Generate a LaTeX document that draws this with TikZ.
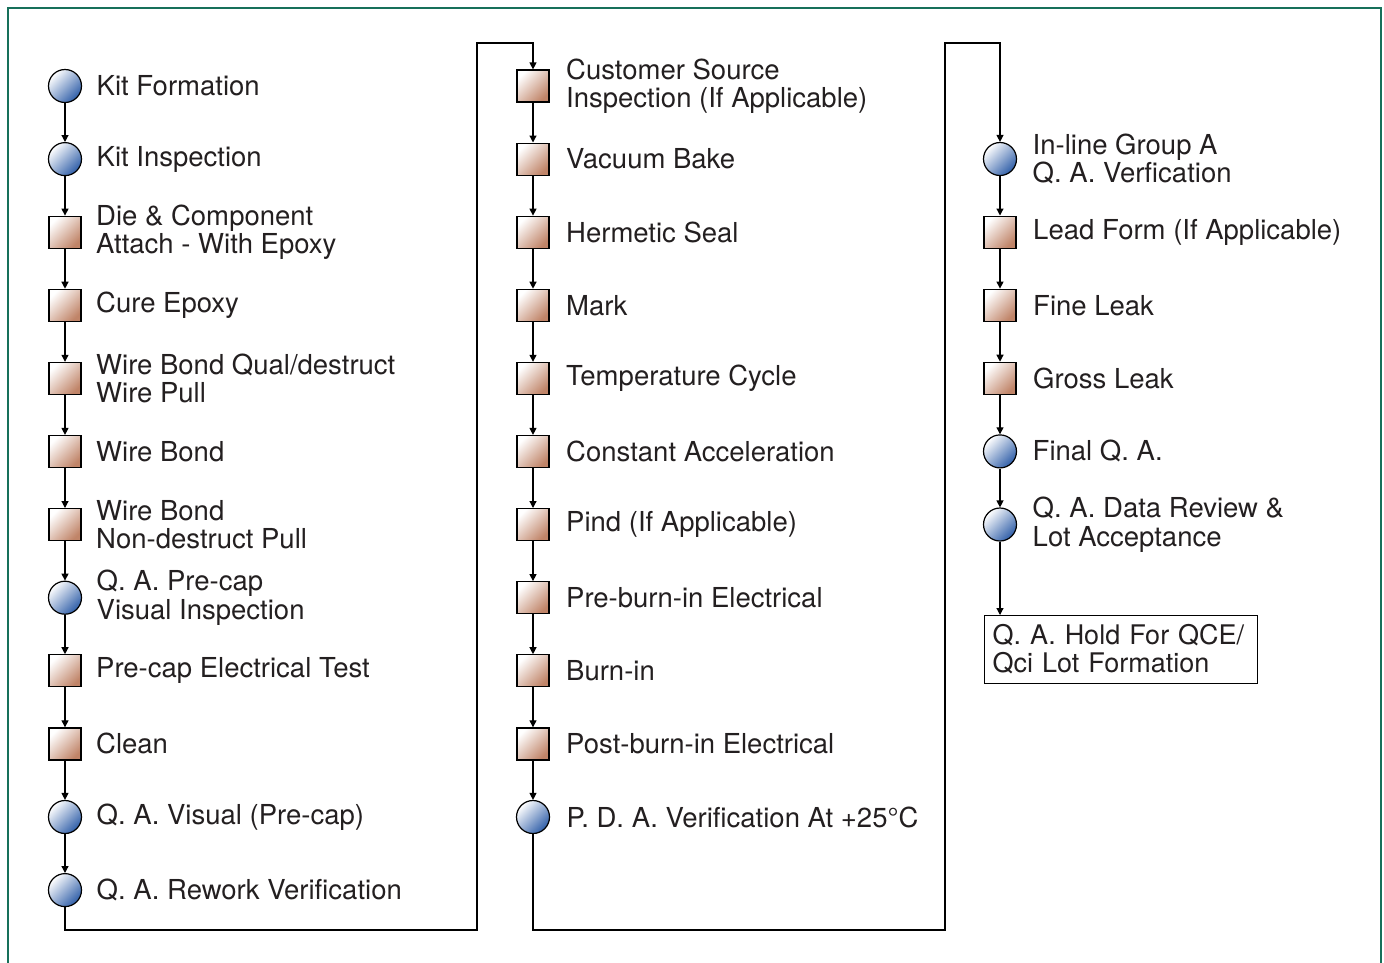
\documentclass[tikz,border=0pt]{standalone}
\usepackage{fontspec}
\setmainfont{TeX Gyre Heros}
\usetikzlibrary{arrows.meta,positioning}
\definecolor{qablue}{HTML}{2F5EA8}
\definecolor{procbrown}{HTML}{C08468}
\definecolor{framegreen}{HTML}{17705A}
\definecolor{inkgray}{HTML}{231F20}
\begin{document}
\begin{tikzpicture}[x=1pt,y=-1pt,node distance=73.1pt,line width=1.2pt,
    qa node/.style={circle,draw,minimum size=33pt,inner sep=0pt,top color=white,bottom color=qablue,shading angle=45},
    proc node/.style={rectangle,draw,minimum size=32pt,inner sep=0pt,top color=white,bottom color=procbrown,shading angle=45},
    text node/.style={inner sep=0pt,align=left,text=inkgray,font=\fontsize{27.5}{28.5}\selectfont},
    hold box/.style={draw,text=inkgray,align=left,text width=257pt,inner xsep=8pt,minimum height=68pt,font=\fontsize{27}{28}\selectfont},
    flow/.style={draw,-{Triangle[length=7pt,width=7pt]}}]
    \useasboundingbox (0,0) rectangle (1384,962);
    \draw[framegreen,line width=2pt] (8,975) -- (8,8) -- (1381,8) -- (1381,975);

    % first column
    \node[qa node] (1) at (65,86) {};
    \node[qa node] (2) [below of=1] {};
    \node[proc node] (3) [below of=2] {};
    \node[proc node] (4) [below of=3] {};
    \node[proc node] (5) [below of=4] {};
    \node[proc node] (6) [below of=5] {};
    \node[proc node] (7) [below of=6] {};
    \node[qa node] (8) [below of=7] {};
    \node[proc node] (9) [below of=8] {};
    \node[proc node] (10) [below of=9] {};
    \node[qa node] (11) [below of=10] {};
    \node[qa node] (12) [below of=11] {};

    % second column
    \node[proc node] (13) at (533,86) {};
    \node[proc node] (14) [below of=13] {};
    \node[proc node] (15) [below of=14] {};
    \node[proc node] (16) [below of=15] {};
    \node[proc node] (17) [below of=16] {};
    \node[proc node] (18) [below of=17] {};
    \node[proc node] (19) [below of=18] {};
    \node[proc node] (20) [below of=19] {};
    \node[proc node] (21) [below of=20] {};
    \node[proc node] (22) [below of=21] {};
    \node[qa node] (23) [below of=22] {};

    % third column
    \node[qa node] (24) at (1000,159) {};
    \node[proc node] (25) [below of=24] {};
    \node[proc node] (26) [below of=25] {};
    \node[proc node] (27) [below of=26] {};
    \node[qa node] (28) [below of=27] {};
    \node[qa node] (29) [below of=28] {};
    \node[hold box,anchor=north west] (hold) at (984,615) {Q. A. Hold For QCE/\\Qci Lot Formation};

    % labels
    \node[text node] (l1) [right=14pt of 1] {Kit Formation};
    \node[text node] (l2) [right=14pt of 2] {Kit Inspection};
    \node[text node] (l3) [right=14pt of 3] {Die \& Component\\Attach - With Epoxy};
    \node[text node] (l4) [right=14pt of 4] {Cure Epoxy};
    \node[text node] (l5) [right=14pt of 5] {Wire Bond Qual/destruct\\Wire Pull};
    \node[text node] (l6) [right=14pt of 6] {Wire Bond};
    \node[text node] (l7) [right=14pt of 7] {Wire Bond\\Non-destruct Pull};
    \node[text node] (l8) [right=14pt of 8] {Q. A. Pre-cap\\Visual Inspection};
    \node[text node] (l9) [right=14pt of 9] {Pre-cap Electrical Test};
    \node[text node] (l10) [right=14pt of 10] {Clean};
    \node[text node] (l11) [right=14pt of 11] {Q. A. Visual (Pre-cap)};
    \node[text node] (l12) [right=14pt of 12] {Q. A. Rework Verification};
    \node[text node] (l13) [right=16pt of 13] {Customer Source\\Inspection (If Applicable)};
    \node[text node] (l14) [right=16pt of 14] {Vacuum Bake};
    \node[text node] (l15) [right=16pt of 15] {Hermetic Seal};
    \node[text node] (l16) [right=16pt of 16] {Mark};
    \node[text node] (l17) [right=16pt of 17] {Temperature Cycle};
    \node[text node] (l18) [right=16pt of 18] {Constant Acceleration};
    \node[text node] (l19) [right=16pt of 19] {Pind (If Applicable)};
    \node[text node] (l20) [right=16pt of 20] {Pre-burn-in Electrical};
    \node[text node] (l21) [right=16pt of 21] {Burn-in};
    \node[text node] (l22) [right=16pt of 22] {Post-burn-in Electrical};
    \node[text node] (l23) [right=16pt of 23] {P. D. A. Verification At +25\textdegree C};
    \node[text node] (l24) [right=15pt of 24] {In-line Group A\\Q. A. Verfication};
    \node[text node] (l25) [right=16pt of 25] {Lead Form (If Applicable)};
    \node[text node] (l26) [right=16pt of 26] {Fine Leak};
    \node[text node] (l27) [right=16pt of 27] {Gross Leak};
    \node[text node] (l28) [right=15pt of 28] {Final Q. A.};
    \node[text node] (l29) [right=15pt of 29] {Q. A. Data Review \&\\Lot Acceptance};

    \coordinate (b1) at (477,930);
    \coordinate (t1) at (477,43);
    \coordinate (b2) at (945,930);
    \coordinate (t2) at (945,43);

    \path[flow]
        (1) edge (2)
        (2) edge (3)
        (3) edge (4)
        (4) edge (5)
        (5) edge (6)
        (6) edge (7)
        (7) edge (8)
        (8) edge (9)
        (9) edge (10)
        (10) edge (11)
        (11) edge (12)
        (13) edge (14)
        (14) edge (15)
        (15) edge (16)
        (16) edge (17)
        (17) edge (18)
        (18) edge (19)
        (19) edge (20)
        (20) edge (21)
        (21) edge (22)
        (22) edge (23)
        (24) edge (25)
        (25) edge (26)
        (26) edge (27)
        (27) edge (28)
        (28) edge (29)
        ;
    \draw[flow] (12) |- (b1) -- (t1) -| (13);
    \draw[flow] (23) |- (b2) -- (t2) -| (24);
    \draw[flow] (29) -- (29 |- hold.north);
\end{tikzpicture}
\end{document}
